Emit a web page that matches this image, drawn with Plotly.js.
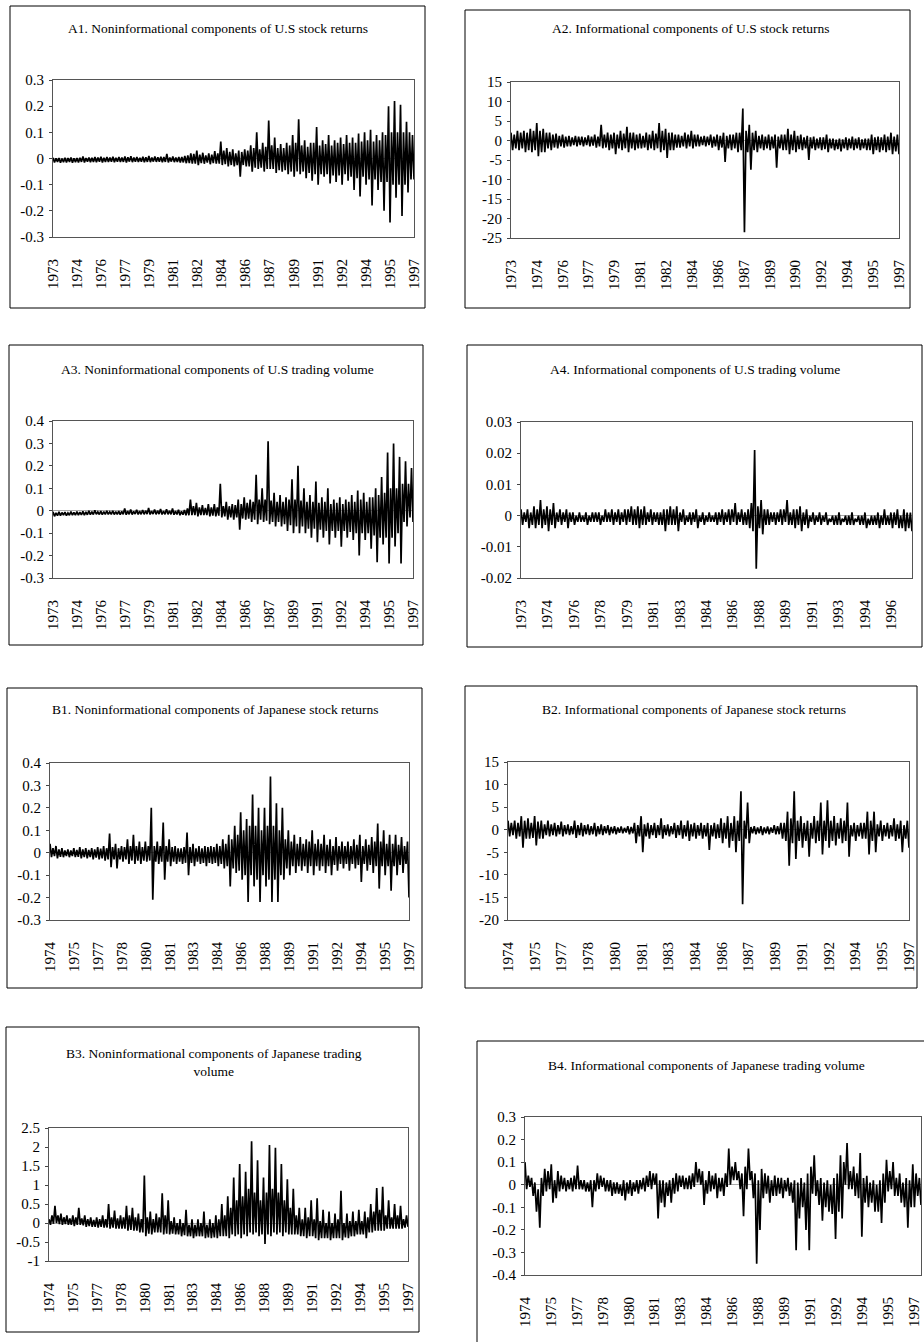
<!DOCTYPE html>
<html>
<head>
<meta charset="utf-8">
<script src="https://cdn.plot.ly/plotly-3.0.1.min.js"></script>
<style>
html,body{margin:0;padding:0;background:#fff;}
#chart{width:924px;height:1342px;}
</style>
</head>
<body>
<div id="chart"></div>
<script>
// ---------- DATA (alternating high / low readings along time) ----------
const A1_values = [0.003,-0.015, 0.001,-0.013, 0.002,-0.016, 0,-0.014, 0.003,-0.015, 0.002,-0.013, 0.004,-0.016, 0.001,-0.014, 0.002,-0.015, 0.003,-0.013, 0.008,-0.015, 0.002,-0.012, 0.004,-0.014, 0.003,-0.013, 0.006,-0.014, 0.004,-0.012, 0.007,-0.015, 0.003,-0.013, 0.006,-0.013, 0.004,-0.012, 0.007,-0.014, 0.003,-0.012, 0.006,-0.013, 0.004,-0.013, 0.008,-0.015, 0.005,-0.012, 0.009,-0.014, 0.004,-0.012, 0.006,-0.013, 0.003,-0.012, 0.007,-0.014, 0.005,-0.013, 0.01,-0.014, 0.004,-0.012, 0.008,-0.013, 0.005,-0.012, 0.007,-0.014, 0.006,-0.013, 0.018,-0.015, 0.004,-0.012, 0.008,-0.014, 0.004,-0.013, 0.006,-0.015, 0.006,-0.015, 0.01,-0.018, 0.012,-0.018, 0.02,-0.02, 0.018,-0.02, 0.03,-0.025, 0.015,-0.018, 0.022,-0.02, 0.012,-0.016, 0.02,-0.022, 0.015,-0.018, 0.028,-0.02, 0.02,-0.02, 0.065,-0.025, 0.03,-0.022, 0.04,-0.03, 0.025,-0.025, 0.035,-0.03, 0.02,-0.025, 0.03,-0.07, 0.025,-0.025, 0.035,-0.03, 0.03,-0.03, 0.05,-0.05, 0.04,-0.035, 0.1,-0.04, 0.035,-0.035, 0.06,-0.05, 0.045,-0.04, 0.145,-0.04, 0.05,-0.04, 0.08,-0.055, 0.04,-0.045, 0.055,-0.05, 0.04,-0.045, 0.06,-0.06, 0.05,-0.05, 0.09,-0.07, 0.06,-0.05, 0.15,-0.06, 0.05,-0.05, 0.07,-0.075, 0.045,-0.055, 0.06,-0.085, 0.06,-0.06, 0.12,-0.1, 0.05,-0.06, 0.07,-0.07, 0.055,-0.06, 0.09,-0.095, 0.05,-0.065, 0.07,-0.09, 0.06,-0.065, 0.08,-0.1, 0.055,-0.06, 0.09,-0.085, 0.06,-0.07, 0.08,-0.12, 0.06,-0.075, 0.095,-0.145, 0.065,-0.07, 0.1,-0.1, 0.07,-0.08, 0.11,-0.18, 0.065,-0.08, 0.09,-0.12, 0.07,-0.09, 0.1,-0.2, 0.09,-0.09, 0.2,-0.245, 0.1,-0.1, 0.22,-0.15, 0.1,-0.1, 0.205,-0.22, 0.1,-0.1, 0.14,-0.13, 0.1,-0.08, 0.09,-0.08];
const A2_values = [2,-2.5, 1.5,-2, 2.5,-2.5, 2,-2, 2.5,-3, 2,-2.5, 3,-3, 2.5,-2.5, 4.5,-4, 2.5,-3, 3,-3, 2,-2, 2,-2.5, 1.5,-1.8, 1.8,-2, 1.2,-1.5, 1.5,-1.8, 1,-1.5, 1.2,-1.5, 0.8,-1.2, 1.2,-1.5, 1,-1.2, 1,-1.5, 0.8,-1.2, 1.3,-1.5, 1,-1.3, 1.5,-1.8, 1,-1.5, 4,-2, 1.5,-1.8, 2,-2.5, 1.5,-2, 2,-3.5, 1.5,-2, 2.5,-2.5, 1.8,-2, 3.5,-3, 2,-2, 2,-2.5, 1.5,-2, 1.8,-2, 1.2,-1.8, 2,-2.5, 1.5,-2, 2.5,-2.5, 1.8,-2, 4.5,-3, 2.5,-2.5, 3,-4.5, 2,-2.5, 2,-2.5, 1.5,-1.8, 1.5,-1.8, 1.2,-1.5, 2,-2, 1.5,-1.5, 2.5,-2, 1.5,-1.5, 1.5,-1.5, 1,-1.2, 1.2,-1.5, 1,-1.2, 1.5,-1.8, 1,-1.5, 1.5,-2.5, 1.2,-1.8, 2,-5.5, 1.2,-2, 1.5,-2.5, 1.5,-2, 2,-3, 2,-2.5, 8.2,-23.5, 2.5,-3, 4,-7.5, 2,-2.5, 2.5,-3, 1.2,-2, 1.5,-2.5, 1,-2, 1.5,-2.5, 1,-2, 1.5,-7, 1,-2, 1.5,-2.5, 1.5,-2.5, 3,-3.5, 1.5,-2.5, 2.5,-3, 1.2,-2.2, 1.5,-2.5, 0.8,-2, 1.2,-5, 0.8,-2, 1,-2.5, 0.5,-2, 0.8,-2.5, 0.8,-2.2, 1.5,-3, 0.5,-2, 0.5,-2.5, 0.2,-2.2, 0.5,-2.8, 0.3,-2, 0.8,-2.5, 0.5,-2, 1,-2.5, 0.5,-2, 0.8,-2.5, 0.3,-2, 0.5,-2.5, 0.5,-2.5, 1.5,-3.5, 0.8,-2.5, 1,-3, 0.8,-2.5, 1.5,-3, 1,-2.5, 2,-3.5, 1,-2.8, 1.5,-3.5];
const A3_values = [-0.005,-0.025, -0.01,-0.022, -0.005,-0.022, -0.008,-0.02, -0.006,-0.022, -0.01,-0.02, -0.004,-0.02, -0.008,-0.02, -0.004,-0.02, -0.006,-0.019, -0.003,-0.02, -0.005,-0.018, 0,-0.018, -0.004,-0.017, 0.002,-0.016, -0.005,-0.017, -0.002,-0.018, -0.004,-0.016, 0,-0.016, -0.005,-0.016, 0,-0.017, -0.004,-0.016, -0.002,-0.018, -0.003,-0.016, 0.01,-0.018, -0.002,-0.016, 0.005,-0.017, -0.003,-0.015, 0.004,-0.017, -0.002,-0.016, 0.003,-0.016, 0,-0.015, 0.012,-0.017, -0.002,-0.015, 0.005,-0.016, 0,-0.015, 0.008,-0.017, -0.002,-0.016, 0.006,-0.016, 0,-0.016, 0.01,-0.018, -0.002,-0.017, 0.004,-0.02, -0.003,-0.018, 0.003,-0.02, 0.01,-0.02, 0.05,-0.02, 0.02,-0.02, 0.035,-0.025, 0.015,-0.02, 0.025,-0.02, 0.012,-0.02, 0.03,-0.025, 0.015,-0.022, 0.03,-0.025, 0.015,-0.022, 0.12,-0.03, 0.02,-0.025, 0.04,-0.04, 0.02,-0.03, 0.03,-0.04, 0.025,-0.03, 0.05,-0.085, 0.03,-0.035, 0.06,-0.04, 0.035,-0.035, 0.05,-0.05, 0.04,-0.04, 0.16,-0.06, 0.05,-0.04, 0.1,-0.05, 0.05,-0.045, 0.31,-0.06, 0.045,-0.05, 0.08,-0.07, 0.04,-0.05, 0.07,-0.07, 0.04,-0.06, 0.06,-0.09, 0.05,-0.065, 0.14,-0.1, 0.05,-0.07, 0.2,-0.1, 0.045,-0.07, 0.1,-0.1, 0.04,-0.08, 0.07,-0.12, 0.04,-0.08, 0.13,-0.14, 0.035,-0.085, 0.06,-0.12, 0.04,-0.09, 0.1,-0.15, 0.03,-0.09, 0.05,-0.12, 0.035,-0.09, 0.06,-0.16, 0.03,-0.09, 0.05,-0.12, 0.04,-0.095, 0.07,-0.13, 0.04,-0.1, 0.09,-0.2, 0.05,-0.1, 0.08,-0.13, 0.04,-0.1, 0.06,-0.17, 0.06,-0.11, 0.1,-0.23, 0.07,-0.12, 0.15,-0.15, 0.08,-0.12, 0.26,-0.235, 0.1,-0.12, 0.3,-0.16, 0.1,-0.1, 0.24,-0.235, 0.12,-0.05, 0.22,-0.07, 0.12,-0.03, 0.19,-0.05];
const A4_values = [0.002,-0.003, 0.001,-0.002, 0.002,-0.004, 0.001,-0.003, 0.003,-0.004, 0.002,-0.003, 0.005,-0.004, 0.002,-0.003, 0.003,-0.005, 0.002,-0.003, 0.004,-0.004, 0.001,-0.002, 0.002,-0.003, 0.001,-0.002, 0.002,-0.004, 0.001,-0.002, 0.001,-0.003, 0,-0.002, 0.001,-0.002, 0,-0.002, 0.001,-0.003, 0,-0.002, 0.001,-0.002, 0.001,-0.002, 0.001,-0.003, 0,-0.002, 0.002,-0.002, 0.001,-0.002, 0.002,-0.003, 0.001,-0.002, 0.002,-0.003, 0.001,-0.002, 0.002,-0.003, 0.002,-0.002, 0.003,-0.003, 0.002,-0.003, 0.003,-0.004, 0.002,-0.003, 0.003,-0.003, 0.001,-0.002, 0.002,-0.003, 0.001,-0.002, 0.001,-0.003, 0.001,-0.003, 0.002,-0.005, 0.002,-0.003, 0.003,-0.003, 0.002,-0.003, 0.003,-0.005, 0.001,-0.002, 0.002,-0.003, 0,-0.002, 0.001,-0.003, 0.001,-0.002, 0.002,-0.004, 0,-0.002, 0.001,-0.003, 0,-0.002, 0.001,-0.002, 0,-0.002, 0.001,-0.003, 0.001,-0.002, 0.002,-0.003, 0.001,-0.002, 0.002,-0.003, 0.002,-0.002, 0.004,-0.003, 0.001,-0.002, 0.002,-0.003, 0.001,-0.003, 0.002,-0.004, 0.004,-0.005, 0.021,-0.017, 0.003,-0.004, 0.005,-0.006, 0.002,-0.003, 0.002,-0.003, 0.001,-0.002, 0.001,-0.003, 0.001,-0.002, 0.002,-0.003, 0.002,-0.002, 0.005,-0.003, 0.001,-0.003, 0.002,-0.004, 0.002,-0.003, 0.003,-0.005, 0.001,-0.003, 0.002,-0.004, 0,-0.002, 0.001,-0.003, 0,-0.002, 0.001,-0.003, 0,-0.002, 0.001,-0.003, -0.001,-0.002, 0,-0.003, 0,-0.003, 0.001,-0.003, -0.001,-0.002, 0,-0.003, 0,-0.003, 0.001,-0.003, -0.001,-0.002, 0,-0.003, 0,-0.003, 0.001,-0.004, -0.001,-0.003, 0,-0.003, 0,-0.003, 0.001,-0.004, 0,-0.003, 0.002,-0.003, 0,-0.003, 0.001,-0.004, 0.001,-0.003, 0.002,-0.004, 0,-0.004, 0.002,-0.005, 0.001,-0.004, 0.001,-0.005];
const B1_values = [0.04,-0.02, 0.02,-0.015, 0.03,-0.025, 0.015,-0.018, 0.02,-0.02, 0.01,-0.015, 0.015,-0.02, 0.01,-0.015, 0.02,-0.02, 0.012,-0.018, 0.025,-0.025, 0.015,-0.02, 0.02,-0.025, 0.012,-0.02, 0.02,-0.03, 0.015,-0.022, 0.025,-0.03, 0.018,-0.025, 0.03,-0.035, 0.02,-0.03, 0.085,-0.065, 0.025,-0.03, 0.04,-0.07, 0.02,-0.03, 0.03,-0.04, 0.025,-0.03, 0.06,-0.05, 0.03,-0.035, 0.08,-0.05, 0.03,-0.035, 0.05,-0.05, 0.025,-0.035, 0.05,-0.04, 0.03,-0.035, 0.2,-0.21, 0.03,-0.04, 0.05,-0.05, 0.03,-0.04, 0.135,-0.12, 0.03,-0.04, 0.06,-0.06, 0.025,-0.04, 0.03,-0.05, 0.02,-0.04, 0.02,-0.05, 0.025,-0.045, 0.09,-0.1, 0.025,-0.045, 0.04,-0.06, 0.02,-0.04, 0.03,-0.05, 0.02,-0.045, 0.03,-0.06, 0.025,-0.045, 0.03,-0.05, 0.025,-0.045, 0.04,-0.06, 0.03,-0.05, 0.06,-0.07, 0.04,-0.06, 0.08,-0.15, 0.06,-0.07, 0.12,-0.09, 0.08,-0.08, 0.18,-0.12, 0.1,-0.1, 0.15,-0.22, 0.12,-0.1, 0.26,-0.15, 0.12,-0.12, 0.2,-0.22, 0.1,-0.1, 0.2,-0.15, 0.12,-0.12, 0.34,-0.22, 0.12,-0.12, 0.22,-0.22, 0.1,-0.1, 0.2,-0.12, 0.06,-0.07, 0.1,-0.1, 0.05,-0.06, 0.08,-0.09, 0.04,-0.06, 0.07,-0.08, 0.04,-0.06, 0.06,-0.09, 0.05,-0.06, 0.1,-0.1, 0.04,-0.06, 0.06,-0.08, 0.04,-0.06, 0.08,-0.09, 0.035,-0.06, 0.06,-0.1, 0.03,-0.055, 0.07,-0.08, 0.03,-0.05, 0.05,-0.07, 0.03,-0.05, 0.05,-0.08, 0.03,-0.05, 0.06,-0.07, 0.035,-0.055, 0.08,-0.13, 0.03,-0.05, 0.06,-0.08, 0.035,-0.055, 0.07,-0.09, 0.05,-0.06, 0.13,-0.16, 0.05,-0.06, 0.1,-0.1, 0.04,-0.06, 0.08,-0.17, 0.04,-0.06, 0.08,-0.1, 0.035,-0.055, 0.07,-0.09, 0.03,-0.05, 0.05,-0.2];
const B2_values = [2,-1.5, 1.5,-1.2, 2,-2, 1.5,-1.5, 3,-4, 2,-2, 2.5,-2, 1.5,-1.8, 3,-3.5, 1.8,-2, 2,-2, 1.2,-1.2, 2,-1.5, 1.2,-1.2, 1.5,-1.5, 1,-1, 1.8,-1.5, 1,-1, 1.2,-1.2, 0.8,-1, 2,-1.8, 1,-1.2, 1.5,-1.5, 1,-1, 1.2,-1.2, 0.8,-1, 1.5,-1.5, 0.8,-1, 1.2,-1.2, 0.8,-0.8, 1,-1.2, 0.6,-0.8, 0.8,-1, 0.5,-0.7, 0.7,-0.8, 0.4,-0.6, 0.8,-1, 0.6,-0.8, 1.5,-3, 1,-1.5, 3,-5, 1.2,-1.5, 1.5,-2, 1,-1.2, 1.5,-1.8, 1,-1.2, 2.5,-2, 1,-1.2, 1.2,-1.5, 0.8,-1, 1.5,-1.8, 1,-1.2, 2,-2, 1,-1.5, 2,-2.5, 1.2,-1.5, 1.5,-2, 1,-1.3, 1.5,-2, 1,-1.5, 1.5,-4.5, 1,-1.5, 1.5,-2, 1.2,-1.8, 2.5,-3, 1.5,-2, 3,-4, 1.5,-2.5, 3,-5, 2,-2.5, 8.5,-16.5, 2,-2, 6,-3, 0.6,-0.8, 0.8,-1, 0.5,-0.8, 0.8,-1.2, 0.5,-0.8, 0.7,-1, 0.5,-0.7, 1,-1, 0.8,-1, 1.5,-2, 1.5,-2.5, 4,-8, 2.5,-3, 8.5,-6.5, 2,-2.5, 3,-4, 1.5,-2.5, 2,-6, 1.5,-2, 3,-3, 2,-2.5, 6,-5.5, 2,-2.5, 6.5,-4, 2,-2.5, 3,-3.5, 1.5,-2, 2.5,-3, 2,-2.5, 6,-6, 1,-1.5, 1.5,-2.5, 1,-1.5, 1.5,-2, 1.5,-2, 4,-5.5, 2,-2.5, 4,-5, 1.2,-1.5, 2,-2.5, 1,-1.5, 1.5,-2, 1,-1.5, 2.5,-2.5, 1.2,-2, 2,-5, 1,-2, 2,-4];
const B3_values = [0.1,-0.05, 0.2,-0.02, 0.45,0, 0.2,-0.03, 0.25,-0.05, 0.15,-0.03, 0.2,-0.05, 0.12,-0.05, 0.2,-0.08, 0.15,-0.05, 0.4,-0.05, 0.12,-0.06, 0.2,-0.1, 0.1,-0.08, 0.15,-0.1, 0.08,-0.1, 0.15,-0.12, 0.1,-0.1, 0.2,-0.12, 0.1,-0.12, 0.5,-0.15, 0.15,-0.12, 0.33,-0.15, 0.12,-0.15, 0.2,-0.15, 0.15,-0.15, 0.45,-0.2, 0.2,-0.18, 0.4,-0.2, 0.15,-0.2, 0.25,-0.25, 0.1,-0.25, 1.25,-0.35, 0.15,-0.28, 0.3,-0.3, 0.1,-0.25, 0.25,-0.25, 0.15,-0.25, 0.78,-0.3, 0.2,-0.28, 0.6,-0.3, 0.05,-0.28, 0.15,-0.3, 0,-0.3, 0.1,-0.35, 0,-0.32, 0.35,-0.35, -0.05,-0.35, 0.1,-0.4, -0.05,-0.35, 0.1,-0.35, 0,-0.35, 0.3,-0.4, -0.05,-0.38, 0.1,-0.4, 0,-0.38, 0.2,-0.4, 0.1,-0.35, 0.5,-0.35, 0.2,-0.35, 0.7,-0.4, 0.4,-0.3, 1.2,-0.35, 0.6,-0.3, 1.55,-0.4, 0.7,-0.3, 1.35,-0.35, 0.9,-0.25, 2.15,-0.3, 0.8,-0.25, 1.65,-0.35, 0.6,-0.3, 1.2,-0.55, 0.8,-0.3, 2.05,-0.35, 0.9,-0.25, 1.98,-0.3, 0.8,-0.25, 1.55,-0.35, 0.6,-0.25, 1.15,-0.3, 0.4,-0.3, 0.9,-0.3, 0.2,-0.3, 0.4,-0.35, 0.1,-0.35, 0.4,-0.4, 0.15,-0.35, 0.6,-0.35, 0.1,-0.4, 0.65,-0.45, 0.05,-0.4, 0.35,-0.4, 0,-0.4, 0.3,-0.45, 0,-0.4, 0.25,-0.4, 0.1,-0.4, 0.85,-0.45, 0,-0.38, 0.25,-0.4, 0.05,-0.35, 0.3,-0.35, 0.05,-0.3, 0.35,-0.3, 0.05,-0.3, 0.3,-0.4, 0.15,-0.25, 0.5,-0.25, 0.3,-0.2, 0.92,-0.2, 0.35,-0.2, 0.95,-0.2, 0.2,-0.15, 0.6,-0.15, 0.15,-0.15, 0.5,-0.15, 0.2,-0.15, 0.45,-0.15, 0.1,-0.12, 0.2,-0.1];
const B4_values = [0.1,-0.02, 0.04,-0.01, 0.03,-0.05, 0.01,-0.12, -0.02,-0.19, 0.03,-0.05, 0.07,-0.03, 0.06,-0.02, 0.09,-0.08, 0.02,-0.06, 0.06,-0.03, 0.04,-0.02, 0.03,-0.03, 0.02,-0.02, 0.03,-0.03, 0.04,-0.02, 0.085,-0.02, 0.02,-0.02, 0.02,-0.03, 0.01,-0.03, 0.02,-0.1, 0.02,-0.03, 0.05,-0.02, 0.04,-0.01, 0.03,-0.03, 0.02,-0.03, 0.02,-0.05, 0.01,-0.04, 0.01,-0.04, 0,-0.05, 0.02,-0.07, 0.01,-0.04, 0.02,-0.05, 0.01,-0.03, 0.02,-0.04, 0.02,-0.02, 0.03,-0.03, 0.04,-0.01, 0.06,-0.02, 0.05,0, 0.05,-0.15, 0.02,-0.08, 0.02,-0.1, 0.01,-0.05, 0.02,-0.08, 0.03,-0.04, 0.05,-0.03, 0.04,-0.01, 0.04,-0.02, 0.03,-0.02, 0.04,-0.02, 0.05,-0.01, 0.1,0.01, 0.07,0, 0.06,-0.09, 0.02,-0.04, 0.06,-0.03, 0.04,-0.02, 0.05,-0.06, 0.03,-0.03, 0.03,-0.05, 0.05,-0.01, 0.16,0, 0.08,0.02, 0.1,0.02, 0.06,-0.02, 0.05,-0.14, 0.08,-0.02, 0.16,0.02, 0.06,-0.06, 0.05,-0.35, 0.02,-0.2, 0.07,-0.06, 0.05,-0.04, 0.04,-0.08, 0.02,-0.05, 0.04,-0.05, 0.03,-0.04, 0.03,-0.06, 0.02,-0.03, 0.03,-0.05, 0.01,-0.08, 0.02,-0.29, 0.01,-0.15, 0.03,-0.1, 0.01,-0.2, 0.05,-0.29, 0.08,-0.04, 0.13,-0.05, 0.02,-0.09, 0.03,-0.16, 0.01,-0.1, 0.02,-0.12, 0,-0.13, 0.03,-0.24, 0.05,-0.12, 0.13,-0.15, 0.1,0, 0.185,-0.02, 0.06,-0.02, 0.08,-0.05, 0.05,-0.06, 0.14,-0.23, 0.03,-0.08, 0.04,-0.1, 0.01,-0.08, 0.02,-0.12, 0,-0.12, 0.02,-0.17, 0.05,-0.08, 0.11,-0.03, 0.06,-0.02, 0.1,-0.05, 0.03,-0.05, 0.05,-0.08, 0.01,-0.1, 0.03,-0.19, 0.02,-0.1, 0.09,-0.1, 0.05,-0.05, 0.03,-0.09];

const A1_years = ['1973','1974','1976','1977','1979','1981','1982','1984','1986','1987','1989','1991','1992','1994','1995','1997'];
const A2_years = ['1973','1974','1976','1977','1979','1981','1982','1984','1986','1987','1989','1990','1992','1994','1995','1997'];
const A3_years = ['1973','1974','1976','1977','1979','1981','1982','1984','1986','1987','1989','1991','1992','1994','1995','1997'];
const A4_years = ['1973','1974','1976','1978','1979','1981','1983','1984','1986','1988','1989','1991','1993','1994','1996'];
const B1_years = ['1974','1975','1977','1978','1980','1981','1983','1984','1986','1988','1989','1991','1992','1994','1995','1997'];
const B2_years = ['1974','1975','1977','1978','1980','1981','1983','1984','1986','1987','1989','1991','1992','1994','1995','1997'];
const B3_years = ['1974','1975','1977','1978','1980','1981','1983','1984','1986','1988','1989','1991','1992','1994','1995','1997'];
const B4_years = ['1974','1975','1977','1978','1980','1981','1983','1984','1986','1988','1989','1991','1992','1994','1995','1997'];

const A1_yticks = [-0.3,-0.2,-0.1,0,0.1,0.2,0.3];
const A2_yticks = [-25,-20,-15,-10,-5,0,5,10,15];
const A3_yticks = [-0.3,-0.2,-0.1,0,0.1,0.2,0.3,0.4];
const A4_yticks = [-0.02,-0.01,0,0.01,0.02,0.03];
const B1_yticks = [-0.3,-0.2,-0.1,0,0.1,0.2,0.3,0.4];
const B2_yticks = [-20,-15,-10,-5,0,5,10,15];
const B3_yticks = [-1,-0.5,0,0.5,1,1.5,2,2.5];
const B4_yticks = [-0.4,-0.3,-0.2,-0.1,0,0.1,0.2,0.3];

const titles = {
  A1: 'A1. Noninformational components of U.S stock returns',
  A2: 'A2. Informational components of U.S stock returns',
  A3: 'A3. Noninformational components of U.S trading volume',
  A4: 'A4. Informational components of U.S trading volume',
  B1: 'B1. Noninformational components of Japanese stock returns',
  B2: 'B2. Informational components of Japanese stock returns',
  B3: 'B3. Noninformational components of Japanese trading<br>volume',
  B4: 'B4. Informational components of Japanese trading volume'
};

// ---------- LAYOUT (pixel geometry) ----------
const W = 924, H = 1342;
const panels = [
  {id:'A1', v:A1_values, yr:A1_years, yt:A1_yticks, plot:[53,80,414,237],  box:[10,6,425,308],   tp:[218,28],  span:1},
  {id:'A2', v:A2_values, yr:A2_years, yt:A2_yticks, plot:[511,82,899,238], box:[465,10,910,308],  tp:[690,29],  span:1},
  {id:'A3', v:A3_values, yr:A3_years, yt:A3_yticks, plot:[53,421,413,578], box:[9,345,423,645],   tp:[217,369], span:1},
  {id:'A4', v:A4_values, yr:A4_years, yt:A4_yticks, plot:[521,422,912,578],box:[467,345,922,647], tp:[695,369], span:0.947},
  {id:'B1', v:B1_values, yr:B1_years, yt:B1_yticks, plot:[50,763,409,920], box:[7,688,422,988],   tp:[215,709], span:1},
  {id:'B2', v:B2_values, yr:B2_years, yt:B2_yticks, plot:[508,762,909,920],box:[465,686,917,988], tp:[694,709], span:1},
  {id:'B3', v:B3_values, yr:B3_years, yt:B3_yticks, plot:[49,1128,408,1261],box:[6,1027,419,1332],tp:[214,1062],span:1},
  {id:'B4', v:B4_values, yr:B4_years, yt:B4_yticks, plot:[525,1117,921,1275],box:[477,1041,930,1350],tp:[706,1065],span:0.982}
];

const FONT = 'Liberation Serif, Times New Roman, serif';
const traces = [], shapes = [], annotations = [];
const layout = {
  width: W, height: H, margin:{l:0,r:0,t:0,b:0},
  paper_bgcolor:'#fff', plot_bgcolor:'rgba(0,0,0,0)',
  showlegend:false, font:{family:FONT, color:'#000', size:15}
};

panels.forEach((p, i) => {
  const n = i + 1;
  const xa = n === 1 ? 'xaxis' : 'xaxis' + n;
  const ya = n === 1 ? 'yaxis' : 'yaxis' + n;
  const xs = p.v.map((_, k) => k);
  traces.push({
    x: xs, y: p.v, type:'scatter', mode:'lines',
    line:{color:'#000', width:1.7}, hoverinfo:'skip',
    xaxis: 'x' + (n === 1 ? '' : n), yaxis: 'y' + (n === 1 ? '' : n)
  });
  const last = p.v.length - 1;
  const tv = p.yr.map((_, k) => k * last * p.span / (p.yr.length - 1));
  layout[xa] = {
    domain:[p.plot[0]/W, p.plot[2]/W], range:[0, last],
    anchor: 'y' + (n === 1 ? '' : n),
    tickmode:'array', tickvals: tv, ticktext: p.yr, tickangle:-90,
    ticks:'', ticklabelstandoff: 15, ticklabeloverflow:'allow',
    showgrid:false, zeroline:false,
    showline:true, mirror:true, linecolor:'#555', linewidth:1,
    tickfont:{family:FONT, size:15, color:'#000'}, fixedrange:true
  };
  layout[ya] = {
    domain:[1 - p.plot[3]/H, 1 - p.plot[1]/H],
    range:[p.yt[0], p.yt[p.yt.length-1]],
    anchor: 'x' + (n === 1 ? '' : n),
    tickmode:'array', tickvals: p.yt, ticktext: p.yt.map(String),
    ticks:'outside', ticklen:3, tickcolor:'#444', ticklabelstandoff: 2,
    showgrid:false, zeroline:true, zerolinecolor:'#aaa', zerolinewidth:1,
    showline:true, mirror:true, linecolor:'#555', linewidth:1,
    tickfont:{family:FONT, size:15, color:'#000'}, fixedrange:true
  };
  shapes.push({
    type:'rect', xref:'paper', yref:'paper',
    x0:p.box[0]/W, x1:p.box[2]/W, y0:1 - p.box[3]/H, y1:1 - p.box[1]/H,
    line:{color:'#000', width:1}, fillcolor:'rgba(0,0,0,0)', layer:'below'
  });
  annotations.push({
    text: titles[p.id], xref:'paper', yref:'paper',
    x: p.tp[0]/W, y: 1 - p.tp[1]/H, xanchor:'center', yanchor:'middle',
    showarrow:false, align:'center',
    font:{family:FONT, size:13.5, color:'#000'}
  });
});
layout.shapes = shapes;
layout.annotations = annotations;

Plotly.newPlot('chart', traces, layout, {staticPlot:true, displayModeBar:false});
</script>
</body>
</html>
